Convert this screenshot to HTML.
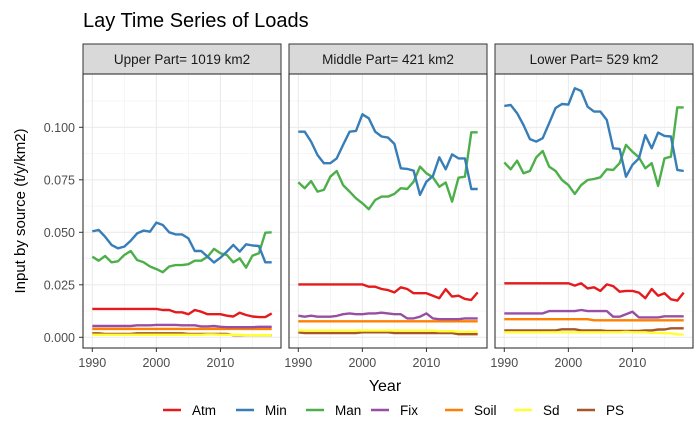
<!DOCTYPE html>
<html><head><meta charset="utf-8"><style>
body{margin:0;background:#fff;}
svg{display:block;font-family:"Liberation Sans",Arial,sans-serif;}
</style></head><body>
<svg id="c" width="700" height="432"></svg>
<script>
const years=[];for(let y=1990;y<=2018;y++)years.push(y);
const panelTitles=["Upper Part= 1019 km2","Middle Part= 421 km2","Lower Part= 529 km2"];
const seriesNames=["Atm","Min","Man","Fix","Soil","Sd","PS"];
const seriesColors=["#e41a1c","#377eb8","#4daf4a","#984ea3","#ff7f00","#ffff33","#a65628"];
const yTicks=[0,0.025,0.05,0.075,0.1];
const yTickLabels=["0.000","0.025","0.050","0.075","0.100"];
const xTicks=[1990,2000,2010];
// Upper
const upAtm=[0.0135,0.0135,0.0135,0.0135,0.0135,0.0135,0.0135,0.0135,0.0135,0.0135,0.0135,0.0130,0.0130,0.0119,0.0119,0.0110,0.0130,0.0122,0.0110,0.0110,0.0110,0.0103,0.0099,0.0117,0.0106,0.0099,0.0096,0.0096,0.0114];
const upMin=[0.0505,0.0511,0.0479,0.0440,0.0424,0.0432,0.0460,0.0495,0.0508,0.0503,0.0546,0.0535,0.0500,0.0490,0.0490,0.0471,0.0411,0.0411,0.0384,0.0356,0.0379,0.0408,0.0440,0.0408,0.0443,0.0437,0.0435,0.0357,0.0357];
const upMan=[0.0384,0.0365,0.0387,0.0357,0.0362,0.0392,0.0411,0.0368,0.0357,0.0337,0.0325,0.0310,0.0337,0.0344,0.0344,0.0348,0.0365,0.0365,0.0384,0.0421,0.0400,0.0392,0.0357,0.0376,0.0332,0.0389,0.0400,0.0498,0.0500];
const upFix=[0.0054,0.0054,0.0054,0.0054,0.0054,0.0054,0.0054,0.0057,0.0057,0.0057,0.0059,0.0059,0.0059,0.0059,0.0057,0.0057,0.0057,0.0052,0.0052,0.0054,0.0050,0.0048,0.0048,0.0048,0.0048,0.0048,0.0050,0.0050,0.0050];
const upSoil=Array(29).fill(0.0040);
const upSd=[0.0012,0.0012,0.0012,0.0012,0.0012,0.0012,0.0012,0.0012,0.0012,0.0012,0.0012,0.0012,0.0012,0.0012,0.0012,0.0012,0.0012,0.0012,0.0014,0.0014,0.0012,0.0012,0.0012,0.0012,0.0010,0.0010,0.0010,0.0010,0.0010];
const upPS=[0.0019,0.0019,0.0016,0.0016,0.0016,0.0016,0.0016,0.0019,0.0019,0.0019,0.0019,0.0019,0.0019,0.0019,0.0019,0.0016,0.0016,0.0016,0.0016,0.0016,0.0016,0.0016,0.0010,0.0010,0.0010,0.0010,0.0010,0.0010,0.0010];
// Middle
const midAtm=[0.0252,0.0252,0.0252,0.0252,0.0252,0.0252,0.0252,0.0252,0.0252,0.0252,0.0252,0.0241,0.0241,0.0230,0.0225,0.0214,0.0238,0.0230,0.0210,0.0210,0.0210,0.0198,0.0186,0.0229,0.0194,0.0198,0.0183,0.0178,0.0214];
const midMin=[0.0979,0.0979,0.0932,0.0868,0.0829,0.0829,0.0852,0.0916,0.0979,0.0983,0.1062,0.1043,0.0979,0.0956,0.0951,0.0921,0.0805,0.0802,0.0794,0.0678,0.0741,0.0768,0.0857,0.0800,0.0871,0.0852,0.0852,0.0706,0.0706];
const midMan=[0.0738,0.0710,0.0744,0.0694,0.0702,0.0765,0.0792,0.0725,0.0694,0.0662,0.0638,0.0610,0.0654,0.0670,0.0670,0.0683,0.0710,0.0706,0.0741,0.0813,0.0781,0.0762,0.0717,0.0737,0.0646,0.0760,0.0765,0.0976,0.0976];
const midFix=[0.0103,0.0098,0.0103,0.0098,0.0098,0.0098,0.0102,0.0110,0.0114,0.0110,0.0110,0.0114,0.0114,0.0117,0.0114,0.0110,0.0110,0.0090,0.0090,0.0098,0.0114,0.0090,0.0086,0.0086,0.0086,0.0086,0.0090,0.0090,0.0090];
const midSoil=Array(29).fill(0.0076);
const midSd=[0.0032,0.0032,0.0032,0.0032,0.0032,0.0032,0.0032,0.0032,0.0032,0.0032,0.0032,0.0032,0.0032,0.0032,0.0032,0.0032,0.0032,0.0032,0.0032,0.0032,0.0032,0.0032,0.0029,0.0029,0.0029,0.0026,0.0026,0.0026,0.0026];
const midPS=[0.0024,0.0020,0.0020,0.0020,0.0020,0.0020,0.0020,0.0020,0.0020,0.0020,0.0024,0.0024,0.0024,0.0024,0.0024,0.0020,0.0020,0.0020,0.0020,0.0020,0.0020,0.0020,0.0020,0.0020,0.0020,0.0015,0.0015,0.0015,0.0015];
// Lower
const lowAtm=[0.0257,0.0257,0.0257,0.0257,0.0257,0.0257,0.0257,0.0257,0.0257,0.0257,0.0257,0.0246,0.0257,0.0233,0.0238,0.0221,0.0252,0.0244,0.0217,0.0221,0.0221,0.0213,0.0186,0.0230,0.0198,0.0210,0.0181,0.0175,0.0213];
const lowMin=[0.1102,0.1106,0.1067,0.1011,0.0944,0.0932,0.0948,0.1019,0.1092,0.1111,0.1108,0.1186,0.1173,0.1098,0.1075,0.1075,0.1035,0.0900,0.0897,0.0765,0.0821,0.0852,0.0963,0.0900,0.0975,0.0959,0.0956,0.0797,0.0792];
const lowMan=[0.0833,0.0800,0.0841,0.0781,0.0792,0.0857,0.0887,0.0813,0.0792,0.0749,0.0725,0.0683,0.0725,0.0749,0.0754,0.0762,0.0800,0.0797,0.0829,0.0916,0.0884,0.0857,0.0805,0.0829,0.0721,0.0852,0.0860,0.1095,0.1095];
const lowFix=[0.0114,0.0114,0.0114,0.0114,0.0114,0.0114,0.0114,0.0125,0.0125,0.0125,0.0125,0.0125,0.0130,0.0125,0.0125,0.0125,0.0125,0.0098,0.0098,0.0110,0.0122,0.0095,0.0095,0.0095,0.0095,0.0100,0.0100,0.0100,0.0100];
const lowSoil=[0.0086,0.0086,0.0086,0.0086,0.0086,0.0086,0.0086,0.0086,0.0086,0.0086,0.0086,0.0086,0.0086,0.0086,0.0081,0.0081,0.0081,0.0081,0.0081,0.0081,0.0081,0.0081,0.0081,0.0081,0.0081,0.0081,0.0081,0.0081,0.0081];
const lowSd=[0.0024,0.0024,0.0024,0.0024,0.0024,0.0024,0.0024,0.0024,0.0024,0.0024,0.0024,0.0024,0.0024,0.0024,0.0024,0.0024,0.0024,0.0024,0.0024,0.0026,0.0024,0.0024,0.0024,0.0021,0.0021,0.0019,0.0019,0.0014,0.0014];
const lowPS=[0.0033,0.0033,0.0033,0.0033,0.0033,0.0033,0.0033,0.0033,0.0033,0.0038,0.0038,0.0038,0.0033,0.0033,0.0033,0.0033,0.0030,0.0030,0.0030,0.0030,0.0030,0.0030,0.0033,0.0033,0.0037,0.0037,0.0043,0.0043,0.0043];
const panelData=[[upAtm,upMin,upMan,upFix,upSoil,upSd,upPS],[midAtm,midMin,midMan,midFix,midSoil,midSd,midPS],[lowAtm,lowMin,lowMan,lowFix,lowSoil,lowSd,lowPS]];

const NS="http://www.w3.org/2000/svg";
const svg=document.getElementById('c');
function mk(t,a,p){const e=document.createElementNS(NS,t);for(const k in a)e.setAttribute(k,a[k]);(p||svg).appendChild(e);return e;}
const panelLefts=[83,289,495], PW=198, PT=74, PB=348;
const yScale=v=>337.3-v*2100;
const xDomain=[1988.55,2019.45];
function xScale(i,yr){return panelLefts[i]+(yr-xDomain[0])/(xDomain[1]-xDomain[0])*PW;}

let t=mk('text',{x:83,y:27,'font-size':20,fill:'#000'});t.textContent="Lay Time Series of Loads";



t=mk('text',{x:0,y:0,'font-size':15,fill:'#000','text-anchor':'middle',transform:'translate(25,211) rotate(-90)'});t.textContent="Input by source (t/y/km2)";


t=mk('text',{x:385,y:391,'font-size':16,fill:'#000','text-anchor':'middle'});t.textContent="Year";



yTicks.forEach((v,j)=>{
  const tl=mk('text',{x:75,y:yScale(v)+4.5,'font-size':12.5,fill:'#4d4d4d','text-anchor':'end'});tl.textContent=yTickLabels[j];
  
  
  mk('line',{x1:79,x2:83,y1:yScale(v),y2:yScale(v),stroke:'#333','stroke-width':1});
});

for(let i=0;i<3;i++){
  const L=panelLefts[i];
  const g=mk('g',{});
  
  
  const strip=mk('rect',{x:L,y:44,width:PW,height:30,fill:'#d9d9d9',stroke:'#333','stroke-width':1},g);
  
  
  const st=mk('text',{x:L+PW/2,y:64,'font-size':13.5,fill:'#1a1a1a','text-anchor':'middle'},g);st.textContent=panelTitles[i];
  
  
  mk('rect',{x:L,y:PT,width:PW,height:PB-PT,fill:'#fff'},g);
  for(let k=0;k<yTicks.length-1;k++){const m=(yTicks[k]+yTicks[k+1])/2;mk('line',{x1:L,x2:L+PW,y1:yScale(m),y2:yScale(m),stroke:'#f0f0f0','stroke-width':0.6},g);}
  mk('line',{x1:L,x2:L+PW,y1:yScale(0.1125),y2:yScale(0.1125),stroke:'#f0f0f0','stroke-width':0.6},g);
  [1995,2005,2015].forEach(yr=>mk('line',{x1:xScale(i,yr),x2:xScale(i,yr),y1:PT,y2:PB,stroke:'#f0f0f0','stroke-width':0.6},g));
  yTicks.forEach(v=>mk('line',{x1:L,x2:L+PW,y1:yScale(v),y2:yScale(v),stroke:'#ebebeb','stroke-width':1.1},g));
  xTicks.forEach(yr=>{
    mk('line',{x1:xScale(i,yr),x2:xScale(i,yr),y1:PT,y2:PB,stroke:'#ebebeb','stroke-width':1.1},g);
    mk('line',{x1:xScale(i,yr),x2:xScale(i,yr),y1:PB,y2:PB+4,stroke:'#333','stroke-width':1},g);
    const xl=mk('text',{x:xScale(i,yr),y:367,'font-size':12.5,fill:'#4d4d4d','text-anchor':'middle'},g);xl.textContent=yr;
    
    
  });
  const order=[6,5,4,3,0,2,1];
  order.forEach(s=>{
    const d=panelData[i][s].map((v,k)=>(k?'L':'M')+xScale(i,years[k]).toFixed(1)+','+yScale(v).toFixed(1)).join(' ');
    const p=mk('path',{d:d,fill:'none',stroke:seriesColors[s],'stroke-width':2.4,'stroke-linejoin':'round'},g);
    
    
  });
  mk('rect',{x:L,y:PT,width:PW,height:PB-PT,fill:'none',stroke:'#333','stroke-width':1.1},g);
}

const legX=[163,236,306,371,445,514,577];
const legG=mk('g',{});


seriesNames.forEach((n,s)=>{
  const e=mk('g',{},legG);
  
  
  mk('line',{x1:legX[s],x2:legX[s]+18,y1:410,y2:410,stroke:seriesColors[s],'stroke-width':2.6},e);
  const lt=mk('text',{x:legX[s]+29,y:415,'font-size':13.5,fill:'#000'},e);lt.textContent=n;
});
</script>
</body></html>
